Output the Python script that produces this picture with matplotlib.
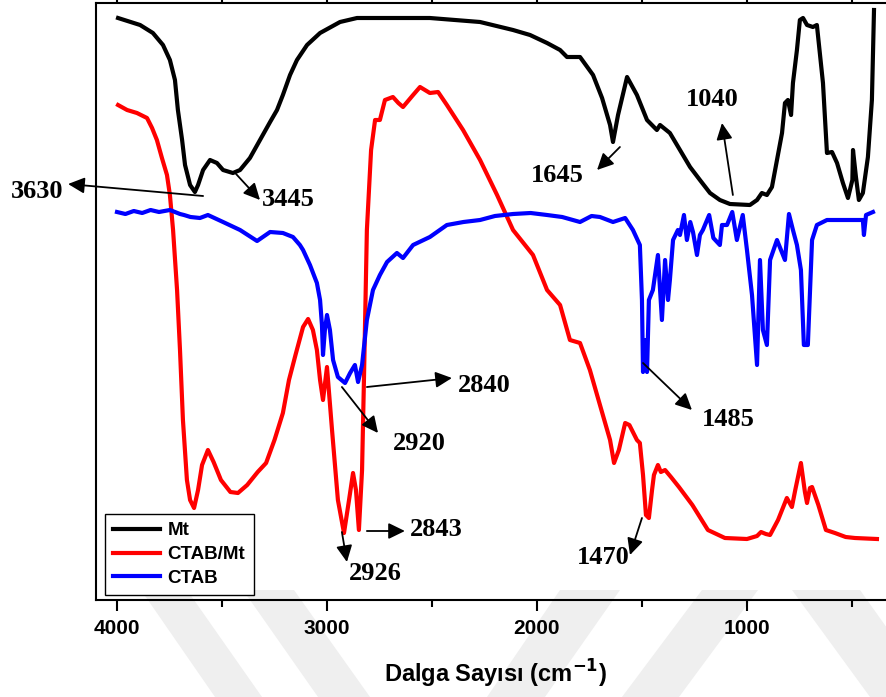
import numpy as np
import matplotlib
matplotlib.use("Agg")
import matplotlib.pyplot as plt
from matplotlib.patches import Polygon

# FTIR spectra (wavenumber cm-1, transmittance in arbitrary units)
mt_wn = [3995, 3890, 3829, 3781, 3748, 3724, 3710, 3690, 3676, 3652, 3629, 3614, 3590,
         3557, 3524, 3495, 3448, 3414, 3367, 3319, 3271, 3238, 3210, 3176, 3143, 3095,
         3033, 2938, 2857, 2700, 2510, 2271, 2114, 2033, 1952, 1890, 1857, 1795, 1733,
         1690, 1652, 1638, 1614, 1571, 1524, 1476, 1429, 1414, 1367, 1319, 1271, 1224,
         1176, 1129, 1081, 986, 952, 929, 905, 881, 857, 833, 819, 805, 790, 781, 762,
         748, 733, 714, 686, 667, 638, 619, 595, 571, 543, 519, 498, 495, 481, 467,
         448, 424, 405, 395]
mt_t = [582, 575, 567, 555, 540, 520, 490, 460, 435, 415, 408, 415, 430,
        440, 437, 430, 427, 430, 442, 460, 478, 490, 505, 525, 540, 555,
        567, 578, 582, 582, 582, 578, 570, 565, 557, 550, 543, 543, 525,
        502, 475, 458, 485, 523, 505, 480, 470, 475, 467, 450, 433, 420,
        407, 400, 396, 395, 400, 407, 405, 413, 440, 467, 497, 500, 485, 517, 550,
        580, 582, 575, 573, 575, 517, 447, 448, 437, 417, 402, 420, 450, 423, 400,
        407, 443, 500, 590]

ctabmt_wn = [3995, 3952, 3905, 3857, 3833, 3810, 3786, 3762, 3748, 3733, 3714, 3700,
             3686, 3667, 3652, 3633, 3614, 3595, 3567, 3540, 3505, 3460, 3424, 3380,
             3330, 3290, 3250, 3210, 3181, 3150, 3114, 3090, 3067, 3048, 3033, 3019,
             3000, 2976, 2948, 2919, 2895, 2876, 2862, 2848, 2833, 2824, 2810, 2790,
             2771, 2748, 2724, 2686, 2660, 2638, 2610, 2590, 2557, 2510, 2471, 2429,
             2352, 2271, 2190, 2114, 2019, 1952, 1890, 1843, 1795, 1748, 1700, 1652,
             1633, 1610, 1580, 1560, 1524, 1510, 1495, 1481, 1467, 1452, 1443, 1424,
             1410, 1390, 1362, 1324, 1260, 1186, 1105, 1000, 952, 933, 910, 890, 852,
             810, 786, 770, 743, 724, 714, 700, 690, 660, 624, 581, 530, 486, 381]
ctabmt_t = [495, 490, 487, 482, 472, 460, 442, 425, 405, 370, 310, 250,
            180, 120, 100, 92, 110, 135, 150, 138, 120, 108, 107, 115,
            128, 137, 160, 187, 220, 245, 273, 281, 270, 250, 220, 200,
            233, 170, 100, 67, 100, 127, 110, 70, 130, 220, 370, 450,
            480, 480, 500, 503, 497, 493, 500, 505, 513, 507, 508, 495,
            470, 440, 405, 370, 345, 310, 295, 260, 257, 230, 195, 160,
            137, 150, 177, 175, 160, 157, 125, 85, 82, 110, 125, 135,
            128, 130, 123, 113, 95, 70, 62, 61, 64, 68, 66, 65, 80,
            102, 93, 110, 137, 108, 97, 112, 113, 95, 70, 67, 63, 62, 61]

ctab_wn = [4000, 3960, 3920, 3880, 3840, 3800, 3748, 3700, 3681, 3650, 3605, 3567,
           3495, 3414, 3333, 3271, 3210, 3162, 3129, 3114, 3081, 3048, 3033, 3024,
           3019, 3010, 3000, 2986, 2971, 2948, 2914, 2890, 2867, 2852, 2833, 2810,
           2781, 2748, 2714, 2667, 2638, 2590, 2510, 2429, 2350, 2271, 2200, 2114,
           2030, 1952, 1880, 1795, 1740, 1700, 1638, 1580, 1543, 1510, 1500, 1495,
           1486, 1476, 1467, 1448, 1424, 1405, 1390, 1376, 1367, 1352, 1329, 1319,
           1300, 1286, 1270, 1257, 1238, 1224, 1210, 1180, 1160, 1129, 1119, 1095,
           1070, 1048, 1020, 1000, 976, 952, 938, 924, 905, 890, 857, 819, 800, 781,
           762, 743, 729, 710, 690, 667, 619, 520, 462, 448, 443, 433, 400]
ctab_t = [388, 386, 389, 387, 390, 388, 390, 386, 385, 383, 382, 385,
          378, 370, 359, 368, 367, 363, 355, 350, 335, 317, 300, 275,
          245, 270, 285, 270, 240, 223, 217, 227, 235, 218, 235, 280,
          310, 325, 338, 347, 342, 355, 363, 375, 378, 380, 384, 386,
          387, 385, 383, 378, 384, 383, 378, 382, 370, 355, 300, 228,
          260, 228, 300, 310, 345, 280, 340, 300, 320, 360, 370, 365,
          385, 360, 378, 368, 345, 365, 370, 385, 362, 355, 375, 375,
          388, 360, 385, 350, 305, 235, 340, 270, 255, 340, 360, 340, 386, 370,
          355, 330, 255, 255, 360, 375, 380, 380, 380, 380, 365, 385, 388]

series = [("Mt", mt_wn, mt_t, "black"),
          ("CTAB/Mt", ctabmt_wn, ctabmt_t, "#ff0000"),
          ("CTAB", ctab_wn, ctab_t, "#0000ff")]

# peak annotations: label, arrow tail, arrow head, text position
peaks = [("3630", (3590, 404), (4233, 416), (4381, 408)),
         ("3445", (3433, 426), (3319, 400), (3186, 400)),
         ("1645", (1605, 453), (1714, 430), (1905, 425)),
         ("1040", (1067, 405), (1119, 477), (1167, 500)),
         ("2840", (2810, 213), (2405, 222), (2252, 215)),
         ("2920", (2929, 213), (2757, 167), (2562, 157)),
         ("1485", (1495, 237), (1262, 190), (1090, 180)),
         ("2843", (2810, 69), (2629, 69), (2481, 70)),
         ("2926", (2929, 68), (2905, 38), (2771, 27)),
         ("1470", (1500, 82), (1557, 45), (1686, 43))]

fig = plt.figure(figsize=(8.87, 6.97), dpi=100)

# faint watermark bands (pixel outlines of the background logo)
bands = [[(141, 590), (187, 590), (262, 697), (215, 697)],
         [(243, 590), (294, 590), (370, 697), (318, 697)],
         [(560, 590), (620, 590), (545, 697), (487, 697)],
         [(702, 590), (758, 590), (679, 697), (622, 697)],
         [(792, 590), (860, 590), (887, 628), (887, 697), (870, 697)]]
for b in bands:
    pts = [(x / 887, 1 - y / 697) for x, y in b]
    fig.patches.append(Polygon(pts, closed=True, transform=fig.transFigure,
                               facecolor="#efefef", edgecolor="none", zorder=-10))

ax = fig.add_axes([96 / 887, 1 - 600 / 697, 799 / 887, 597 / 697])
ax.patch.set_alpha(0)

for name, wn, t, col in series:
    ax.plot(wn, t, color=col, lw=3, label=name, solid_joinstyle="round")

for lab, tail, head, txt in peaks:
    ax.annotate("", xy=head, xytext=tail, annotation_clip=False,
                arrowprops=dict(arrowstyle="-|>,head_length=0.45,head_width=0.22",
                                color="black", lw=1.3, mutation_scale=22,
                                shrinkA=0, shrinkB=0))
    ax.text(txt[0], txt[1], lab, ha="center", va="center", fontsize=19,
            fontweight="bold", family="Liberation Serif", clip_on=False)

ax.set_xlim(4100, 295)
ax.set_ylim(0, 597)
ax.set_xticks([4000, 3000, 2000, 1000])
ax.set_xticks([3500, 2500, 1500, 500], minor=True)
ax.set_yticks([])
ax.tick_params(axis="x", which="major", direction="out", length=8, width=1.5,
               top=True, labelsize=15, pad=6)
ax.tick_params(axis="x", which="minor", direction="out", length=5, width=1.5, top=True)
for lbl in ax.get_xticklabels():
    lbl.set_fontweight("bold")
    lbl.set_family("Liberation Sans")
for s in ax.spines.values():
    s.set_linewidth(1.5)

ax.set_xlabel("Dalga Sayısı (cm$^{\\mathbf{-1}}$)", fontsize=17, fontweight="bold",
              family="Liberation Sans", labelpad=14)

leg = ax.legend(loc="lower left", bbox_to_anchor=(0.011, 0.008), borderaxespad=0,
                fancybox=False, framealpha=1, edgecolor="black", handlelength=2.5,
                handletextpad=0.4, labelspacing=0.35, borderpad=0.45,
                prop=dict(family="Liberation Sans", weight="bold", size=13.5))
leg.get_frame().set_linewidth(1.0)

fig.savefig("out.png", dpi=100)
